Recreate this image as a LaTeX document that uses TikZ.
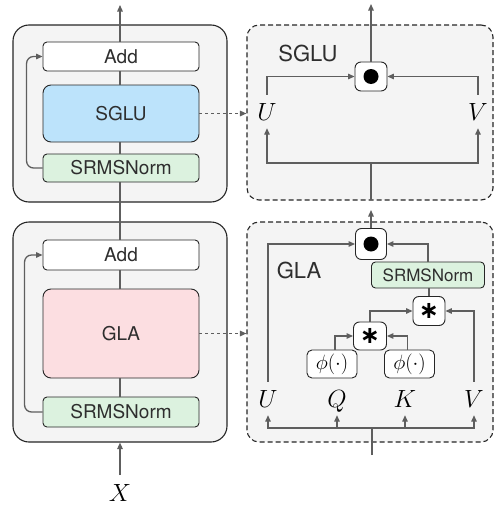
\documentclass[tikz,border=0pt]{standalone}
\usepackage{fontspec}
\setmainfont{TeX Gyre Heros}
\newfontfamily\djv{DejaVu Sans}
\usetikzlibrary{arrows.meta}
\definecolor{bgc}{HTML}{F4F4F4}
\definecolor{lc}{HTML}{5E5E5E}
\definecolor{txt}{HTML}{2E2E2E}
\definecolor{bluef}{HTML}{BCE3FB}
\definecolor{pinkf}{HTML}{FCDEE1}
\definecolor{greenf}{HTML}{DCF2DF}
\definecolor{bordc}{HTML}{262626}
\tikzset{
  blk/.style={draw=bordc, line width=0.9pt, rounded corners=4pt, inner sep=0pt,
    minimum width=156pt, font=\fontsize{19}{19}\selectfont, text=txt},
  outerbox/.style={draw=bordc, line width=1.1pt, fill=bgc, rounded corners=16pt, inner sep=0pt},
  dashbox/.style={draw=bordc, line width=1.1pt, fill=bgc, rounded corners=12pt,
    dash pattern=on 5pt off 3pt, inner sep=0pt},
  conn/.style={draw=lc, line width=1.3pt, -{Triangle[length=6.5pt,width=5.5pt]}},
  ln/.style={draw=lc, line width=1.3pt},
  opbox/.style={draw=bordc, line width=0.9pt, rounded corners=6pt, fill=white,
    minimum width=32pt, minimum height=29pt, inner sep=0pt},
  phibox/.style={draw=bordc, line width=0.9pt, rounded corners=5pt, fill=white,
    minimum width=50pt, minimum height=28pt, inner sep=0pt, font=\fontsize{20}{20}\selectfont},
  mathl/.style={font=\fontsize{25}{25}\selectfont, inner xsep=0pt, inner ysep=8pt,
    text height=17pt, text depth=0pt},
  biglabel/.style={font=\fontsize{22}{22}\selectfont, text=txt, inner sep=0pt},
}
\begin{document}
\begin{tikzpicture}[x=1pt, y=-1pt]
\useasboundingbox (0,0) rectangle (495,506);
% ---------- left column ----------
\node[outerbox, minimum width=214pt, minimum height=177pt] (upO) at (120,113.5) {};
\node[outerbox, minimum width=214pt, minimum height=220pt] (loO) at (120,332) {};
\coordinate (topL) at (120,5);
\coordinate (inL) at (120,475);

\node[blk, fill=white, minimum height=29pt] (addU) at (121,56.5) {Add};
\node[blk, fill=bluef, minimum height=57pt, rounded corners=8pt] (sglu) at (121,113.5) {SGLU};
\node[blk, fill=greenf, minimum height=28pt] (normU) at (121,168) {SRMSNorm};

\node[blk, fill=white, minimum height=30pt] (addL) at (121,255) {Add};
\node[blk, fill=pinkf, minimum height=89pt, rounded corners=8pt] (gla) at (121,333.5) {GLA};
\node[blk, fill=greenf, minimum height=30pt] (normL) at (121,412) {SRMSNorm};

\node[font=\fontsize{30}{30}\selectfont, inner sep=0pt] (X) at (120,493) {$X$};

\draw[conn] (inL) -- (inL |- loO.south);
\draw[ln] (normL.north -| inL) -- (gla.south -| inL);
\draw[ln] (gla.north -| inL) -- (addL.south -| inL);
\draw[ln] (addL.north -| inL) -- (normU.south -| inL);
\draw[ln] (normU.north -| inL) -- (sglu.south -| inL);
\draw[ln] (sglu.north -| inL) -- (addU.south -| inL);
\draw[conn] (addU.north -| inL) -- (topL);

\draw[conn, rounded corners=7pt] (normU.west) -- ++(-16,0) |- (addU.west);
\draw[conn, rounded corners=7pt] (normL.west) -- ++(-18,0) |- (addL.west);

% ---------- right: SGLU ----------
\node[dashbox, minimum width=246pt, minimum height=175pt] (sgluR) at (370,112.5) {};
\node[biglabel] (sgluT) at (308,53) {SGLU};
\node[opbox] (dot1) at (371,76.5) {};
\fill[black] (dot1.center) circle (7.5pt);
\node[mathl] (U1) at (267,111.5) {$U$};
\node[mathl] (V1) at (478,111.5) {$V$};
\coordinate (top2) at (371,4);
\coordinate (sin) at (371,200);
\coordinate (sbus) at (371,163);
\draw[conn] (dot1.north) -- (top2);
\draw[conn] (U1.north) |- (dot1.west);
\draw[conn] (V1.north) |- (dot1.east);
\draw[ln] (sin) -- (sbus);
\draw[conn] (sbus) -| (U1.south);
\draw[conn] (sbus) -| (V1.south);

% ---------- right: GLA ----------
\node[dashbox, minimum width=246pt, minimum height=220pt] (glaR) at (370,332) {};
\node[biglabel] (glaT) at (299,270) {GLA};
\node[opbox, minimum height=31pt, minimum width=31pt] (dot2) at (371,244) {};
\fill[black] (dot2.center) circle (7.5pt);
\node[draw=bordc, line width=0.9pt, rounded corners=4pt, fill=greenf, inner sep=0pt,
  minimum width=113pt, minimum height=26pt, font=\fontsize{17}{17}\selectfont, text=txt]
  (normR) at (428,275) {SRMSNorm};
\node[opbox] (star2) at (429,311) {{\djv\bfseries\fontsize{24}{24}\selectfont ∗}};
\node[opbox, minimum height=28pt, minimum width=33pt] (star1) at (370,336) {{\djv\bfseries\fontsize{24}{24}\selectfont ∗}};
\node[phibox] (phi1) at (332,364) {$\phi(\cdot)$};
\node[phibox] (phi2) at (409.5,364) {$\phi(\cdot)$};
\node[mathl] (U2) at (268,398.5) {$U$};
\node[mathl] (Q) at (337,398.5) {$Q$};
\node[mathl] (K) at (405,398.5) {$K$};
\node[mathl] (V2) at (474,398.5) {$V$};
\coordinate (out2) at (371,210);
\coordinate (gin) at (372,455);
\coordinate (gbus) at (372,428);

\draw[conn] (dot2.north) -- (out2);
\draw[conn] (U2.north) |- (dot2.west);
\draw[conn] (normR.north) |- (dot2.east);
\draw[ln] (star2.north) -- (normR.south -| star2.north);
\draw[conn] (V2.north) |- (star2.east);
\draw[conn] (star1.north) |- (star2.west);
\draw[conn] ([xshift=3pt]phi1.north) |- (star1.west);
\draw[conn] ([xshift=-2pt]phi2.north) |- (star1.east);
\draw[ln] (gin) -- (gbus);
\draw[conn] (gbus) -| (U2.south);
\draw[conn] (gbus) -| (V2.south);
\draw[conn] (gbus -| Q.south) -- (Q.south);
\draw[conn] (gbus -| K.south) -- (K.south);

\draw[conn, dashed] (sglu.east) -- (sgluR.west |- sglu.east);
\draw[conn, dashed] (gla.east) -- (glaR.west |- gla.east);
\end{tikzpicture}
\end{document}
